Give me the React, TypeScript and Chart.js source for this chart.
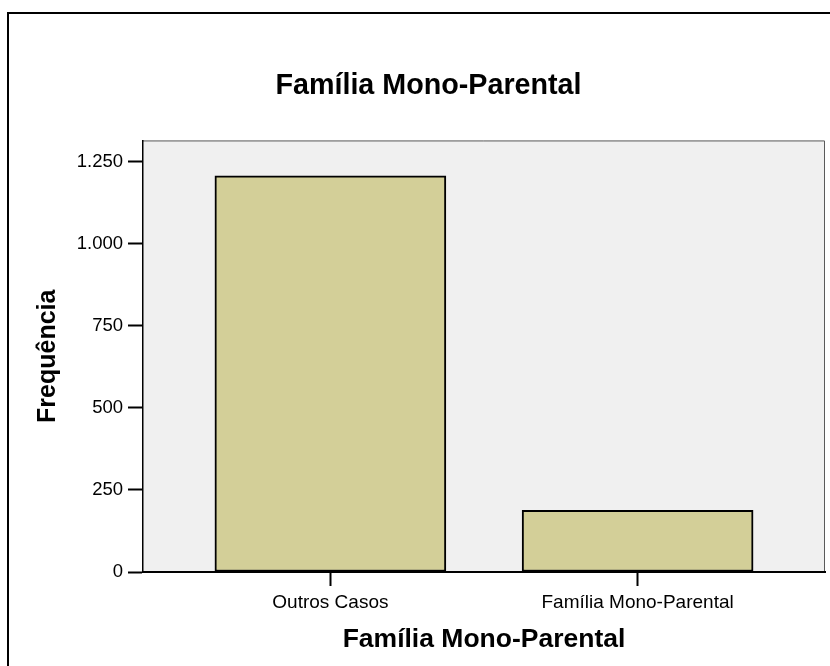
import React, { useEffect, useRef } from 'react';
import { Chart, registerables } from 'chart.js';

Chart.register(...registerables);

const categories = ['Outros Casos', 'Família Mono-Parental'];
const frequencies = [1207, 188];
const yTickValues = [0, 250, 500, 750, 1000, 1250];
const chartTitle = 'Família Mono-Parental';
const xAxisTitle = 'Família Mono-Parental';
const yAxisTitle = 'Frequência';

const FONT = '"Liberation Sans", Arial, Helvetica, sans-serif';

function formatThousands(v: number): string {
  return String(Math.round(v)).replace(/\B(?=(\d{3})+(?!\d))/g, '.');
}

const plotBackground = {
  id: 'plotBackground',
  beforeDraw(chart: any) {
    const { ctx, chartArea: a } = chart;
    ctx.save();
    ctx.fillStyle = '#f0f0f0';
    ctx.fillRect(a.left, a.top, a.right - a.left, a.bottom - a.top);
    ctx.strokeStyle = '#5a5a5a';
    ctx.lineWidth = 1;
    ctx.beginPath();
    ctx.moveTo(a.left, a.top + 0.5);
    ctx.lineTo(a.right - 0.5, a.top + 0.5);
    ctx.lineTo(a.right - 0.5, a.bottom);
    ctx.stroke();
    ctx.restore();
  },
};

export default function App() {
  const canvasRef = useRef<HTMLCanvasElement | null>(null);

  useEffect(() => {
    if (!canvasRef.current) return;
    const chart = new Chart(canvasRef.current, {
      type: 'bar',
      data: {
        datasets: [
          {
            data: categories.map((_, i) => ({ x: i, y: frequencies[i] })),
            backgroundColor: '#d3cf98',
            borderColor: '#000000',
            borderWidth: 2,
            borderSkipped: false,
            barThickness: 231,
          } as any,
        ],
      },
      plugins: [plotBackground],
      options: {
        responsive: false,
        animation: false,
        layout: { padding: { left: 32, right: 5, top: 0, bottom: 0 } },
        plugins: {
          legend: { display: false },
          tooltip: { enabled: false },
          title: {
            display: true,
            text: chartTitle,
            color: '#000',
            font: { family: FONT, size: 28.7, weight: 'bold' },
            padding: { top: 69, bottom: 37 },
          },
        },
        scales: {
          x: {
            type: 'linear',
            min: -0.61,
            max: 1.61,
            offset: false,
            afterBuildTicks: (s: any) => {
              s.ticks = categories.map((_, i) => ({ value: i }));
            },
            afterFit: (s: any) => {
              s.height = 94;
            },
            ticks: {
              autoSkip: false,
              maxRotation: 0,
              padding: 5,
              color: '#000',
              font: { family: FONT, size: 19 },
              callback: (v: any) => categories[v as number] ?? '',
            },
            grid: {
              display: true,
              offset: false,
              drawOnChartArea: false,
              drawTicks: true,
              tickLength: 14,
              tickColor: '#000',
              tickWidth: 2,
            },
            border: { display: true, color: '#000', width: 2 },
            title: {
              display: true,
              text: xAxisTitle,
              color: '#000',
              font: { family: FONT, size: 26.5, weight: 'bold' },
              padding: { top: 0, bottom: 10 },
            },
          },
          y: {
            type: 'linear',
            min: 0,
            max: 1315,
            afterBuildTicks: (s: any) => {
              s.ticks = yTickValues.map((v) => ({ value: v }));
            },
            afterFit: (s: any) => {
              s.width = 111;
            },
            ticks: {
              padding: 5,
              color: '#000',
              font: { family: FONT, size: 18.5 },
              callback: (v: any) => formatThousands(Number(v)),
            },
            grid: {
              display: true,
              drawOnChartArea: false,
              drawTicks: true,
              tickLength: 15,
              tickColor: '#000',
              tickWidth: 2,
            },
            border: { display: true, color: '#000', width: 1.5 },
            title: {
              display: true,
              text: yAxisTitle,
              color: '#000',
              font: { family: FONT, size: 25, weight: 'bold' },
              padding: { top: 1, bottom: 0 },
            },
          },
        },
      } as any,
    });
    return () => chart.destroy();
  }, []);

  return (
    <div style={{ position: 'absolute', left: 0, top: 0, width: 830, height: 666, overflow: 'hidden', background: '#fff' }}>
      <div
        style={{
          position: 'absolute',
          left: 7,
          top: 12,
          width: 1000,
          height: 1000,
          borderLeft: '2px solid #000',
          borderTop: '2px solid #000',
        }}
      />
      <canvas ref={canvasRef} width={830} height={666} style={{ position: 'absolute', left: 0, top: 0, display: 'block' }} />
    </div>
  );
}
